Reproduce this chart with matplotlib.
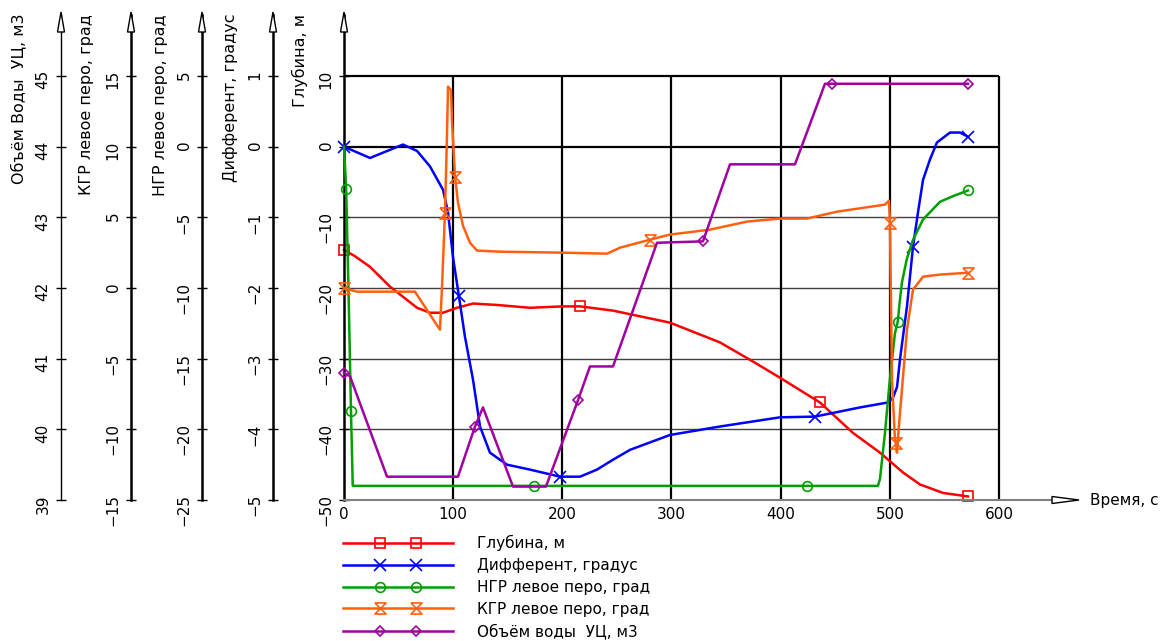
import matplotlib
matplotlib.use("Agg")
import matplotlib.pyplot as plt
import numpy as np
from matplotlib.legend_handler import HandlerLine2D
from matplotlib.lines import Line2D
from matplotlib.patches import Polygon

# --- data (time, s) --------------------------------------------------------
# Глубина, м
depth_t = [0, 10.0, 23.8, 42.1, 66.9, 78.8, 90.7, 103.5, 118.2, 140.1, 170.4,
           200.6, 216.2, 246.4, 298.6, 344.4, 374.6, 399.4, 436.0, 466.2,
           491.0, 512.0, 527.6, 548.7, 571.6]
depth_v = [-14.6, -15.5, -17.0, -19.8, -22.8, -23.5, -23.5, -22.8, -22.2,
           -22.4, -22.8, -22.6, -22.6, -23.2, -24.9, -27.7, -30.4, -32.7,
           -36.2, -40.5, -43.3, -46.1, -47.8, -49.0, -49.5]

# Дифферент, градус
trim_t = [0, 23.8, 54.0, 66.9, 78.8, 90.7, 95.3, 99.8, 105.3, 110.8, 118.2,
          124.6, 133.7, 149.3, 170.4, 197.9, 216.2, 231.7, 246.4, 262.0,
          298.6, 344.4, 399.4, 431.4, 472.7, 498.3, 502.9, 506.6, 509.3,
          515.7, 521.2, 525.8, 530.4, 536.8, 543.2, 555.1, 564.3, 571.6]
trim_v = [0, -0.16, 0.03, -0.06, -0.28, -0.61, -0.93, -1.56, -2.12, -2.69,
          -3.30, -3.96, -4.33, -4.50, -4.57, -4.67, -4.67, -4.57, -4.43,
          -4.29, -4.08, -3.96, -3.83, -3.82, -3.69, -3.62, -3.55, -3.40,
          -3.01, -2.26, -1.42, -0.93, -0.47, -0.18, 0.06, 0.20, 0.20, 0.14]

# НГР левое перо, град
ngr_t = [0, 2.0, 4.3, 6.4, 8.0, 174.0, 424.0, 489.1, 491.0, 495.6, 500.1,
         504.7, 507.2, 509.3, 511.1, 515.7, 521.2, 530.4, 546.0, 557.9, 571.6]
ngr_v = [0, -3.0, -10.8, -18.7, -24.0, -24.0, -24.0, -24.0, -23.5, -20.2,
         -16.4, -13.2, -12.4, -10.8, -9.6, -7.9, -6.6, -5.15, -3.9, -3.5, -3.1]

# КГР левое перо, град
kgr_t = [0, 11.9, 65.0, 87.9, 89.8, 92.5, 94.3, 95.3, 98.0, 98.9, 101.7,
         104.4, 109.0, 115.4, 121.8, 142.9, 200.6, 240.9, 252.8, 280.3,
         298.6, 335.3, 369.2, 399.4, 424.1, 451.6, 495.6, 499.2, 500.1,
         502.0, 504.7, 505.6, 506.5, 509.3, 515.7, 521.2, 530.4, 546.0, 571.6]
kgr_v = [0.0, -0.26, -0.26, -2.95, 0.1, 5.33, 10.7, 14.25, 14.0, 11.9, 7.88,
         6.04, 4.4, 3.2, 2.65, 2.57, 2.5, 2.43, 2.85, 3.42, 3.78, 4.13,
         4.7, 4.91, 4.91, 5.4, 5.9, 6.18, 4.62, -6.5, -10.73, -10.94,
         -11.65, -8.82, -2.95, -0.12, 0.8, 0.95, 1.08]

# Объём воды УЦ, м3
vol_t = [0, 5.5, 39.4, 104.4, 120.0, 127.3, 154.8, 185.0, 214.3, 225.3,
         246.4, 286.7, 328.8, 353.6, 413.1, 440.6, 447.0, 571.6]
vol_v = [40.80, 40.75, 39.33, 39.33, 40.04, 40.31, 39.19, 39.19, 40.41,
         40.89, 40.89, 42.64, 42.66, 43.75, 43.75, 44.89, 44.89, 44.89]

# which samples carry a marker
depth_marks = [0, 12, 18, 24]
trim_marks = [0, 8, 15, 23, 30, 37]
ngr_marks = [1, 3, 5, 6, 12, 20]
kgr_marks = [0, 5, 10, 19, 28, 31, 38]
vol_marks = [0, 4, 8, 12, 16, 17]

# --- layout ----------------------------------------------------------------
W, H = 1175, 641
RED, BLUE, GREEN, ORANGE, PURPLE = "#ff0000", "#0000ff", "#00a000", "#ff6010", "#a000a0"
HOURGLASS = [(-1, 1), (1, 1), (-1, -1), (1, -1), (-1, 1)]


def fx(px):
    return px / W


def fy(py):
    return 1 - py / H


class TwoMarkHandler(HandlerLine2D):
    """Line across the whole handle, markers only at 1/3 and 2/3."""

    def create_artists(self, *args, **kwargs):
        arts = super().create_artists(*args, **kwargs)
        for a in arts:
            a.set_markevery([1, 2])
        return arts


fig = plt.figure(figsize=(W / 100, H / 100), dpi=100)
fig.patch.set_facecolor("white")

ax = fig.add_axes([fx(344), fy(500), fx(1075) - fx(344), fy(15) - fy(500)])
ytop = -50 + (500 - 15) * 60 / (500 - 76)
span = (ytop + 50) / 60
ax.set_xlim(0, (1075 - 344) * 600 / (999 - 344))
ax.set_ylim(-50, ytop)
for s in ("top", "right"):
    ax.spines[s].set_visible(False)
ax.spines["bottom"].set_color("#808080")
ax.spines["bottom"].set_linewidth(1.5)
ax.spines["left"].set_linewidth(1.8)
ax.set_xticks(range(0, 601, 100))
ax.tick_params(axis="x", length=0, pad=5, labelsize=11)
ax.set_yticks(range(-50, 11, 10))
ax.tick_params(axis="y", direction="inout", length=7, width=1, pad=4,
               labelsize=11, labelrotation=90)

# grid
ax.hlines([-40, -30, -20, -10], 0, 600, color="#404040", lw=1.0, zorder=1)
ax.hlines([0, 10], 0, 600, color="black", lw=1.6, zorder=1)
ax.vlines(range(100, 601, 100), -50, 10, color="black", lw=1.6, zorder=1)


def extra_axis(offset_pt, lo, hi, step, lw):
    tw = ax.twinx()
    tw.set_ylim(lo, lo + (hi - lo) * span)
    for s in ("top", "right", "bottom"):
        tw.spines[s].set_visible(False)
    tw.spines["left"].set_visible(True)
    tw.spines["left"].set_position(("outward", offset_pt))
    tw.spines["left"].set_linewidth(lw)
    tw.yaxis.set_ticks_position("left")
    tw.set_yticks(np.arange(lo, hi + step / 2, step))
    tw.tick_params(axis="y", direction="inout", length=7, width=1, pad=4,
                   labelsize=11, labelrotation=90)
    return tw


ax_trim = extra_axis(51.1, -5, 1, 1, 1.8)
ax_ngr = extra_axis(102.2, -25, 5, 5, 1.8)
ax_kgr = extra_axis(153.4, -15, 15, 5, 1.8)
ax_vol = extra_axis(203.8, 39, 45, 1, 1.0)

line_kw = dict(lw=1.8, mew=1.2, mfc="none", clip_on=False)
ax.plot(depth_t, depth_v, color=RED, marker="s", ms=7, markevery=depth_marks, **line_kw)
ax_trim.plot(trim_t, trim_v, color=BLUE, marker="x", ms=8, markevery=trim_marks, **line_kw)
ax_ngr.plot(ngr_t, ngr_v, color=GREEN, marker="o", ms=7, markevery=ngr_marks, **line_kw)
ax_kgr.plot(kgr_t, kgr_v, color=ORANGE, marker=HOURGLASS, ms=8, markevery=kgr_marks, **line_kw)
ax_vol.plot(vol_t, vol_v, color=PURPLE, marker="D", ms=5.5, markevery=vol_marks, **line_kw)

# axis titles
titles = [(18, "Объём Воды  УЦ, м3"), (87, "КГР левое перо, град"),
          (160, "НГР левое перо, град"), (230, "Дифферент, градус"),
          (300, "Глубина, м")]
for xc, txt in titles:
    fig.text(fx(xc), fy(14), txt, rotation=90, ha="center", va="top", fontsize=11.5)

# axis arrows
for xa in (61, 131, 202, 273, 344):
    fig.add_artist(Polygon([(fx(xa), fy(12)), (fx(xa - 3.5), fy(32)), (fx(xa + 3.5), fy(32))],
                           closed=True, fc="white", ec="black", lw=1.0,
                           transform=fig.transFigure, zorder=10))
fig.add_artist(Polygon([(fx(1079), fy(500)), (fx(1052), fy(496.5)), (fx(1052), fy(503.5))],
                       closed=True, fc="white", ec="black", lw=1.0,
                       transform=fig.transFigure, zorder=10))
fig.text(fx(1090), fy(500), "Время, с", ha="left", va="center", fontsize=11)

# legend
proxy_kw = dict(lw=1.8, mew=1.2, mfc="none")
handles = [
    Line2D([], [], color=RED, marker="s", ms=7, **proxy_kw),
    Line2D([], [], color=BLUE, marker="x", ms=8, **proxy_kw),
    Line2D([], [], color=GREEN, marker="o", ms=7, **proxy_kw),
    Line2D([], [], color=ORANGE, marker=HOURGLASS, ms=8, **proxy_kw),
    Line2D([], [], color=PURPLE, marker="D", ms=5.5, **proxy_kw),
]
labels = ["Глубина, м", "Дифферент, градус", "НГР левое перо, град",
          "КГР левое перо, град", "Объём воды  УЦ, м3"]
fig.legend(handles, labels, loc="upper left", bbox_to_anchor=(fx(343), fy(535)),
           frameon=False, fontsize=11, handlelength=7.2, handletextpad=1.6,
           labelspacing=0.45, borderpad=0, borderaxespad=0,
           handler_map={Line2D: TwoMarkHandler(numpoints=4, marker_pad=0)})

fig.savefig("out.png", dpi=100, facecolor="white")
